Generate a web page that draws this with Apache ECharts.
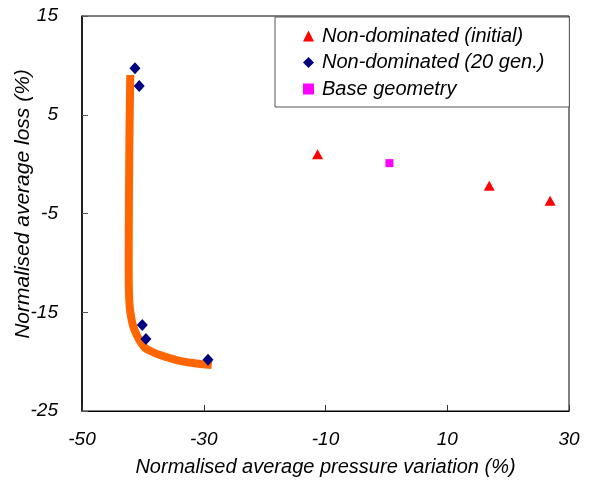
<!DOCTYPE html>
<html>
<head>
<meta charset="utf-8">
<script src="https://cdn.jsdelivr.net/npm/echarts@6/dist/echarts.min.js"></script>
<style>
  html, body { margin: 0; padding: 0; background: #fff; }
  #main { width: 589px; height: 490px; }
</style>
</head>
<body>
<div id="main"></div>
<script>
// 数据
var initialPts = [[-11.3, 1.0], [16.9, -2.2], [26.9, -3.7]];
var genPts = [[-41.3, 9.7], [-40.6, 7.9], [-40.1, -16.3], [-39.5, -17.7], [-29.3, -19.8]];
var basePts = [[0.5, 0.1]];
var frontX = [-42.07, -42.2, -42.28, -42.33, -42.3, -42.15, -41.84, -41.5, -41.01, -40.4, -39.65, -38.5, -37.19, -34.45, -31.77, -28.69];
var frontY = [9.03, 3.0, -2.92, -9.71, -12.6, -14.5, -15.78, -16.6, -17.30, -18.0, -18.62, -19.0, -19.33, -19.84, -20.14, -20.35];
var legendNames = ['Non-dominated (initial)', 'Non-dominated (20 gen.)', 'Base geometry'];

(function() {
    var myChart = echarts.init(document.getElementById('main'));

    var font = "'Liberation Sans', Arial, sans-serif";
    var frontData = [];
    for (var i = 0; i < frontX.length; i++) {
        frontData.push([frontX[i], frontY[i]]);
    }

    var option = {
        backgroundColor: '#fff',
        animation: false,
        textStyle: { fontFamily: font, fontStyle: 'italic', color: '#000' },
        grid: {
            left: 82, top: 16, right: 20, bottom: 79,
            outerBoundsMode: 'none',
            containLabel: false,
            show: true, borderColor: '#000', borderWidth: 1
        },
        legend: {
            data: legendNames,
            orient: 'vertical',
            left: 275,
            top: 17,
            backgroundColor: '#fff',
            borderColor: '#555',
            borderWidth: 1,
            borderRadius: 0,
            padding: [9, 25, 8, 28],
            itemGap: 6.5,
            itemWidth: 11,
            itemHeight: 11,
            selectedMode: false,
            textStyle: {
                fontFamily: font, fontStyle: 'italic', fontSize: 20,
                color: '#000', lineHeight: 20, padding: [0, 0, 0, 3]
            }
        },
        xAxis: {
            type: 'value',
            min: -50, max: 30, interval: 20,
            name: 'Normalised average pressure variation (%)',
            nameLocation: 'middle',
            nameGap: 46,
            nameMoveOverlap: false,
            nameTextStyle: { fontFamily: font, fontStyle: 'italic', fontSize: 20, color: '#000' },
            axisLine: { onZero: false, lineStyle: { color: '#000', width: 1 } },
            axisTick: { inside: true, length: 6, lineStyle: { color: '#333' } },
            axisLabel: { margin: 19, fontFamily: font, fontStyle: 'italic', fontSize: 19, color: '#000' },
            splitLine: { show: false }
        },
        yAxis: {
            type: 'value',
            min: -25, max: 15, interval: 10,
            name: 'Normalised average loss (%)',
            nameLocation: 'middle',
            nameGap: 48,
            nameMoveOverlap: false,
            nameTextStyle: {
                fontFamily: font, fontStyle: 'italic', fontSize: 21, color: '#000',
                padding: [0, 0, 0, 19]
            },
            axisLine: { onZero: false, lineStyle: { color: '#000', width: 1.5 } },
            axisTick: { inside: true, length: 6, lineStyle: { color: '#555' } },
            axisLabel: { margin: 24, fontFamily: font, fontStyle: 'italic', fontSize: 19, color: '#000' },
            splitLine: { show: false }
        },
        series: [
            {
                name: 'front',
                type: 'line',
                data: frontData,
                smooth: 0.3,
                showSymbol: false,
                symbol: 'none',
                lineStyle: { color: '#FF6600', width: 8, cap: 'butt' },
                z: 1
            },
            {
                name: legendNames[0],
                type: 'scatter',
                data: initialPts,
                symbol: 'triangle',
                symbolSize: [11, 10],
                itemStyle: { color: '#FF0000', opacity: 1 },
                z: 3
            },
            {
                name: legendNames[1],
                type: 'scatter',
                data: genPts,
                symbol: 'diamond',
                symbolSize: [11, 12],
                itemStyle: { color: '#000080', opacity: 1 },
                z: 3
            },
            {
                name: legendNames[2],
                type: 'scatter',
                data: basePts,
                symbol: 'rect',
                symbolSize: 8,
                itemStyle: { color: '#FF00FF', opacity: 1 },
                z: 3
            }
        ]
    };

    myChart.setOption(option);
})();
</script>
</body>
</html>
